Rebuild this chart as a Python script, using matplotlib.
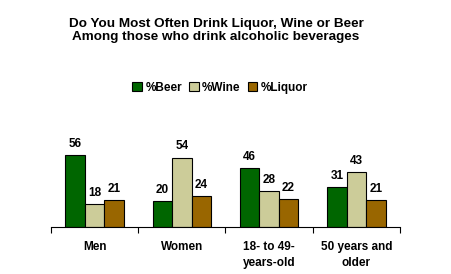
import numpy as np
import matplotlib.pyplot as plt
from matplotlib.patches import Patch

plt.rcParams['font.family'] = ['Liberation Sans', 'DejaVu Sans']

categories = ["Men", "Women", "18- to 49-\nyears-old", "50 years and\nolder"]
beer = [56, 20, 46, 31]
wine = [18, 54, 28, 43]
liquor = [21, 24, 22, 21]
series_names = ["%Beer", "%Wine", "%Liquor"]
colors = ["#006600", "#CCCC99", "#996600"]

fig = plt.figure(figsize=(4.51, 2.74), dpi=100)
ax = fig.add_axes([51/451, 47/274, 349/451, 90/274])

x = np.arange(len(categories))
w = 0.223
for i, (vals, c) in enumerate(zip([beer, wine, liquor], colors)):
    bars = ax.bar(x + (i - 1) * w, vals, w, color=c, edgecolor="black", linewidth=0.8)
    for b, v in zip(bars, vals):
        ax.text(b.get_x() + b.get_width() / 2, v + 4, str(v), ha="center", va="bottom",
                fontsize=8.5, fontweight="bold")

ax.set_xlim(-0.5, len(categories) - 0.5)
ax.set_ylim(0, 70)
for s in ["top", "right", "left"]:
    ax.spines[s].set_visible(False)
ax.spines["bottom"].set_linewidth(0.8)
ax.set_yticks([])
ax.set_xticks(np.arange(len(categories) + 1) - 0.5, minor=False)
ax.set_xticklabels([])
ax.tick_params(axis="x", direction="out", length=4, width=0.8)
for xi, lab in zip(x, categories):
    ax.text(xi, -11, lab, ha="center", va="top", fontsize=8.5, fontweight="bold",
            linespacing=1.45)

fig.text(0.479, 0.935, "Do You Most Often Drink Liquor, Wine or Beer\nAmong those who drink alcoholic beverages",
         ha="center", va="top", fontsize=9.7, fontweight="bold", linespacing=1.1)

handles = [Patch(facecolor=c, edgecolor="black", linewidth=0.8) for c in colors]
fig.legend(handles, series_names, loc="center", bbox_to_anchor=(0.488, 0.68), ncol=3,
           frameon=False, prop={"weight": "bold", "size": 8.5}, handlelength=0.8,
           handleheight=0.8, handletextpad=0.3, columnspacing=0.6, borderpad=0)

fig.savefig("out.png", dpi=100)
